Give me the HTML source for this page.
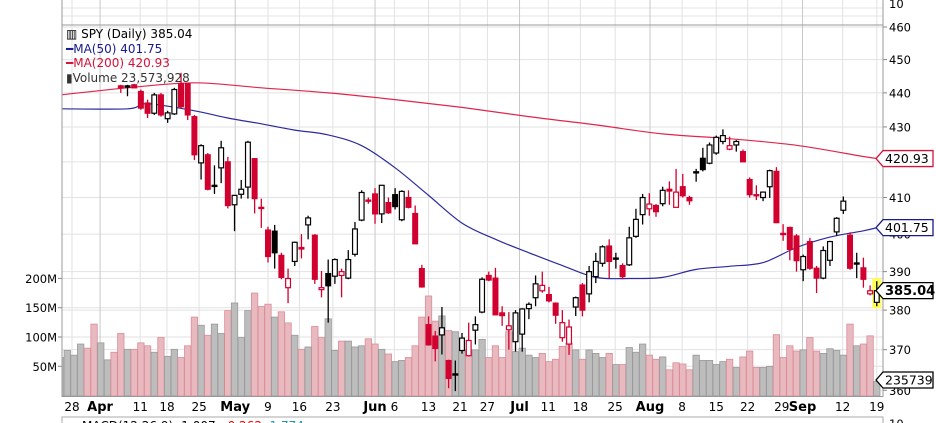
<!DOCTYPE html>
<html><head><meta charset="utf-8"><style>
html,body{margin:0;padding:0;background:#fff;width:936px;height:423px;overflow:hidden}
svg{display:block;font-family:"DejaVu Sans","Liberation Sans",sans-serif}
</style></head><body>
<svg id="chart" width="936" height="423" viewBox="0 0 936 423">
<defs><clipPath id="pc"><rect x="62" y="25" width="821" height="371"/></clipPath></defs>
<g id="grid"></g>
<g id="vol" clip-path="url(#pc)"></g>
<g id="ma" clip-path="url(#pc)"></g>
<g id="cdl" clip-path="url(#pc)"></g>
<g id="axes"></g>
<g font-size="12">
  <text x="66" y="38" fill="#000">▥ SPY (Daily) 385.04</text>
  <text x="66" y="53" fill="#1a1a8c">━MA(50) 401.75</text>
  <text x="66" y="67" fill="#d2143c">━MA(200) 420.93</text>
  <text x="66" y="82" fill="#333">▮Volume 23,573,928</text>
</g>
<g>
  <rect x="62" y="417" width="821" height="20" fill="none" stroke="#aaa"/>
  <text x="82" y="430" font-size="12"><tspan fill="#000">MACD(12,26,9) -1.007,</tspan><tspan fill="#e00"> -0.262,</tspan><tspan fill="#29a"> 1.774</tspan></text>
  <text x="889" y="428" font-size="11.5" fill="#000">10</text>
</g>
</svg>
<script>
const opens=[442.1,441.8,442.4,440.4,437,434,439.4,432.4,433.8,442.7,442.7,433,419.7,422,413.4,418.3,420,408,410.9,412.9,420.9,407.3,401.1,400.8,394.3,385.8,392.7,396.4,402.5,399.7,385.3,389.5,388.8,389,388.3,394.6,403.8,409.3,411,405.5,408.6,410.8,403.9,410,405.6,390.8,376.3,373.4,373.7,367.3,363.9,369.8,368.5,374.9,379.5,389,388.3,379.3,375,372,373.9,380.4,383.2,385,384,381.8,373,371.4,380.8,386.5,384.2,388.7,392.2,396.8,393.6,391.6,391.8,399.4,405.3,406.9,407.8,408.3,412.3,407.3,413,410,416.9,421,419.6,422.5,425.8,423.6,424.8,422.9,415,410.8,410,413,417.3,400.2,401.8,399.5,390.5,398,390.9,388.3,393,400.6,406.5,399.7,392.3,391,384.2,382];
const highs=[442.4,442.4,442.7,441,438,440,440,434.7,441.5,446,443,433.5,425,422.5,419,426,421.4,410.6,414.9,426,421,409.7,402,402.5,395,390.8,398,400,405,400,390.2,393.2,393.5,390.8,395.7,403.3,412,410,412.6,413.5,410,412.6,412,412,407.8,391.8,378.4,374.7,380.8,367.5,367.3,374.2,376.8,378.4,388.5,390,391,381,379.5,380,380.5,382,389,390,386,382,380,377.6,383.5,387,391.5,395,397,398.6,395,392.2,402,406.9,411,411.2,408.2,413,414.5,418,416.6,410.5,418,424,425.5,427.5,429.3,427.2,426.2,423.5,415.6,413.4,411.7,417.8,418.5,402.7,402,400,394.5,399,391.5,396.7,398.2,404.6,410.3,400.5,395,393.7,386.4,387.5];
const lows=[440,439,441.5,435,432.6,433.5,433,431.2,433.5,435.5,432,420.5,415,412,411,414,407,400.8,409.7,409.7,405.6,401.7,392.4,390.8,388,381.8,391.5,393.5,398.6,386.8,383.3,376.8,386.8,383.3,388,394,403.5,408.3,402.8,403,405.5,406.7,403.5,407,397.3,385.8,371,367.1,368.8,360.5,359.8,369,368.3,371.3,379.2,387.5,378.7,376,370,369.5,369.5,377.7,381,384.5,382,376.5,372,368.7,378.5,378.4,382,387,391.3,388.3,390.8,388,391.5,399,402.6,405,404.7,407.6,408,407.3,410,408,414.4,417.3,419.3,422,425,423.3,422.9,420,410,409.3,409,409.9,403,398.2,393,390,387.5,390.5,384.4,388,391.5,399.6,405.5,390.5,388.3,385.8,383.8,381];
const closes=[441.5,442.1,441.5,435.5,434,439.4,433.5,434.1,441,435.9,433.5,422,424.6,412.3,413.2,424,407.8,410.6,412.3,425.6,409.7,407,394,395,388.5,388.2,397.8,396,404.4,388,385.8,386.3,393.2,390,393.2,401.4,411.4,409,405.5,413.4,405.8,407.5,411.7,407.3,397.4,386,371.2,370.3,375.5,362.9,364,372.9,372.3,376.3,388,387.8,378.8,378.6,376,379.3,380.3,381.5,386.8,386.4,382.4,378.7,376.8,375.7,383.2,380,390,392.7,396.6,392.7,393.6,388.7,399,404,410,408.2,406.1,412,411.8,411.5,410.5,409.1,417.2,417.8,424.8,427,427.5,424.6,425.8,420,410.8,410.5,411.5,417.5,403.1,400,395.9,392.9,394,390.9,388.3,395.6,398,404.3,409,390.9,392.2,388,385,385.04];
const volumesM=[65,77,69,88,81,122,90,61,74,106,79,79,90,85,74,99,67,79,65,85,134,120,103,122,106,145,158,99,145,175,152,156,134,143,124,103,79,83,118,99,131,77,93,93,83,85,97,88,79,71,58,60,65,85,134,170,127,136,111,109,78,78,78,96,65,85,65,109,75,81,69,65,72,58,62,84,90,78,62,78,72,65,72,53,53,82,74,88,69,62,66,44,56,54,44,69,60,60,53,58,62,48,66,76,48,48,50,104,65,85,76,78,99,76,72,80,77,69,122,85,88,102,24];
const preVolDown=[false,false,false,false,true,true,false,false,true];
const ma50Days=[0,10,13,20,25,30,35,40,45,50,55,60,65,70,75,80,85,90,95,100,105,110,115,120,122];
const ma50=[435.3,435.3,436.8,434.7,432.6,430.9,429.1,427.7,424.6,418.3,410.6,403,398.6,395,391.6,388.5,388.2,388.5,390.6,391.4,392.4,396.4,399.2,400.9,401.75];
const ma200Days=[0,10,20,30,40,50,60,70,80,90,100,110,120,122];
const ma200=[439.4,441.5,443,441.5,440,438,435.7,433,430.6,428,426.6,424.7,421.5,420.93];
const priceTicks=[460,450,440,430,420,410,400,390,380,370,360];
const volTicks=[50,100,150,200];
const volTickLabels=["50M","100M","150M","200M"];
const xLabels=["28","Apr","11","18","25","May","9","16","23","Jun","6","13","21","27","Jul","11","18","25","Aug","8","15","22","29","Sep","12","19"];
const xLabelDays=[1.7,5.9,11.9,15.9,20.7,26.1,31,35.7,40.7,47,49.9,55,59.7,63.8,68.6,72.9,77.7,82.9,88.1,92.9,98,102.7,107.8,110.9,116.9,122];
const xMonth=[0,1,0,0,0,1,0,0,0,1,0,0,0,0,1,0,0,0,1,0,0,0,0,1,0,0];
const FIRST=9;

const NS="http://www.w3.org/2000/svg";
function X(d){return 60.6+d*6.69;}
function PY(p){return 27+1482*Math.log(460/p);}
function VY(v){return 395.6-v*0.586;}
function mk(parent,tag,attrs){const e=document.createElementNS(NS,tag);for(const k in attrs)e.setAttribute(k,attrs[k]);parent.appendChild(e);return e;}
const grid=document.getElementById('grid'),vol=document.getElementById('vol'),ma=document.getElementById('ma'),cdl=document.getElementById('cdl'),axes=document.getElementById('axes');

let t=mk(grid,'line',{x1:62,x2:883,y1:8,y2:8,stroke:'#e4e4e4'});

t=mk(grid,'line',{x1:62,x2:883,y1:16,y2:16,stroke:'#e4e4e4'});

t=mk(axes,'text',{x:889,y:8,'font-size':11.5,fill:'#000'});t.textContent='10';


priceTicks.forEach(p=>{const y=PY(p);
  const g=mk(grid,'line',{x1:62,x2:883,y1:y,y2:y,stroke:'#e2e2e2'});
  
  const tk=mk(axes,'line',{x1:883,x2:887,y1:y,y2:y,stroke:'#888'});
  
  const l=mk(axes,'text',{x:889,y:y+4.5,'font-size':11.5,fill:'#000'});l.textContent=p;
  
});
volTicks.forEach((v,i)=>{const y=VY(v);
  const g=mk(grid,'line',{x1:62,x2:883,y1:y,y2:y,stroke:'#e2e2e2'});
  
  const tk=mk(axes,'line',{x1:58,x2:62,y1:y,y2:y,stroke:'#888'});
  
  const l=mk(axes,'text',{x:57,y:y+4.5,'font-size':11.5,'text-anchor':'end',fill:'#000'});l.textContent=volTickLabels[i];
  
});
xLabels.forEach((s,i)=>{const x=X(xLabelDays[i]);
  const g=mk(grid,'line',{x1:x,x2:x,y1:0,y2:396,stroke:xMonth[i]?'#c8c8c8':'#e2e2e2'});
  
  const l=mk(axes,'text',{x:x,y:411,'font-size':xMonth[i]?13:12,'font-weight':xMonth[i]?'bold':'normal','text-anchor':'middle',fill:'#000'});l.textContent=s;
  
});
t=mk(axes,'line',{x1:62,x2:883,y1:25,y2:25,stroke:'#999'});
t=mk(axes,'line',{x1:62,x2:883,y1:396.5,y2:396.5,stroke:'#999'});
t=mk(axes,'line',{x1:62,x2:62,y1:0,y2:397,stroke:'#999'});
t=mk(axes,'line',{x1:883,x2:883,y1:0,y2:397,stroke:'#999'});

function isDown(d){if(d<FIRST)return preVolDown[d];const k=d-FIRST;const prev=k>0?closes[k-1]:443;return closes[k]<prev;}
volumesM.forEach((v,d)=>{const x=X(d),y=VY(v);const down=isDown(d);
  const r=mk(vol,'rect',{x:x-3.2,y:y,width:6.4,height:396-y,fill:down?'#e8b9bf':'#bdbdbd',stroke:down?'#dc8c98':'#999','stroke-width':0.8});
  
});
function line(days,vals,color,name){
  const P=days.map((d,i)=>[X(d),PY(vals[i])]);
  let s='M'+P[0][0].toFixed(1)+','+P[0][1].toFixed(1);
  for(let i=0;i<P.length-1;i++){
    const p0=P[Math.max(i-1,0)],p1=P[i],p2=P[i+1],p3=P[Math.min(i+2,P.length-1)];
    const c1=[p1[0]+(p2[0]-p0[0])/6,p1[1]+(p2[1]-p0[1])/6];
    const c2=[p2[0]-(p3[0]-p1[0])/6,p2[1]-(p3[1]-p1[1])/6];
    s+=' C'+c1.map(v=>v.toFixed(1)).join(',')+' '+c2.map(v=>v.toFixed(1)).join(',')+' '+p2.map(v=>v.toFixed(1)).join(',');
  }
  const p=mk(ma,'path',{d:s,fill:'none',stroke:color,'stroke-width':1.2});
  }
line(ma200Days,ma200,'#e0264c','ma200-line');
line(ma50Days,ma50,'#2b2b9c','ma50-line');
const lastK=closes.length-1;
t=mk(cdl,'rect',{x:X(lastK+FIRST)-4.5,y:PY(highs[lastK])-3,width:9,height:PY(lows[lastK])-PY(highs[lastK])+5,fill:'#ffff55'});

closes.forEach((c,k)=>{const d=k+FIRST,x=X(d),o=opens[k];const prev=k>0?closes[k-1]:443;
  const col=c<prev?'#d2002f':'#000';
  const w=mk(cdl,'line',{x1:x,x2:x,y1:PY(highs[k]),y2:PY(lows[k]),stroke:col,'stroke-width':1.3});
  
  const top=PY(Math.max(o,c)),bot=PY(Math.min(o,c));const h=Math.max(bot-top,1.2);
  const hollow=c>=o;
  const b=mk(cdl,'rect',{x:x-2.4,y:top,width:4.8,height:h,fill:hollow?'#fff':col,stroke:col,'stroke-width':1.2});
  
});
function tag(y,txt,color,bold,name){
  const g=mk(axes,'g',{});
  mk(g,'path',{d:`M876,${y} L883,${y-8} L933,${y-8} L933,${y+8} L883,${y+8} Z`,fill:'#fff',stroke:color,'stroke-width':1.3});
  const tx=mk(g,'text',{x:885,y:y+4.5,'font-size':bold?13:12.5,'font-weight':bold?'bold':'normal',fill:'#000'});tx.textContent=txt;}
tag(PY(ma200[ma200.length-1]),'420.93','#d2143c',false,'ma200-value-tag');
tag(PY(ma50[ma50.length-1]),'401.75','#1a1a8c',false,'ma50-value-tag');
tag(PY(closes[lastK]),'385.04','#000',true,'price-value-tag');
tag(380,'235739','#000',false,'volume-value-tag');
</script>
</body></html>
